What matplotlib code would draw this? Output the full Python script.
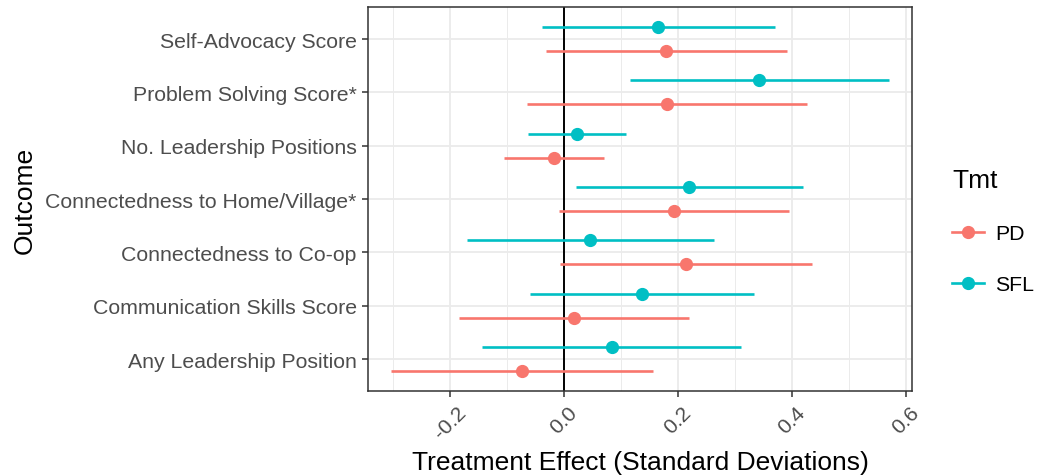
import numpy as np
import matplotlib
matplotlib.use("Agg")
import matplotlib.pyplot as plt
from matplotlib.lines import Line2D

plt.rcParams['font.family'] = ['Liberation Sans', 'DejaVu Sans']

# outcomes, bottom to top
outcomes = ["Any Leadership Position", "Communication Skills Score",
            "Connectedness to Co-op", "Connectedness to Home/Village*",
            "No. Leadership Positions", "Problem Solving Score*",
            "Self-Advocacy Score"]

pd_est = [-0.073, 0.018, 0.214, 0.194, -0.017, 0.181, 0.180]
pd_low = [-0.303, -0.184, -0.007, -0.008, -0.104, -0.065, -0.031]
pd_high = [0.157, 0.219, 0.435, 0.396, 0.070, 0.426, 0.391]

sfl_est = [0.084, 0.138, 0.046, 0.220, 0.023, 0.343, 0.166]
sfl_low = [-0.144, -0.059, -0.169, 0.022, -0.062, 0.116, -0.038]
sfl_high = [0.311, 0.333, 0.263, 0.419, 0.109, 0.571, 0.371]

groups = ["PD", "SFL"]
colors = ["#F8766D", "#00BFC4"]

fig = plt.figure(figsize=(10.45, 4.77), dpi=100)
ax = fig.add_axes([0.352, 0.178, 0.521, 0.805])

ypos = np.arange(1, len(outcomes) + 1)
series = [(pd_est, pd_low, pd_high, -0.225), (sfl_est, sfl_low, sfl_high, 0.225)]
for (est, lo, hi, off), col in zip(series, colors):
    y = ypos + off
    ax.hlines(y, lo, hi, color=col, lw=1.9, zorder=3)
    ax.plot(est, y, 'o', color=col, ms=8.5, zorder=4)

ax.axvline(0, color="black", lw=1.4, zorder=2)

ax.set_xlim(-0.3435, 0.6115)
ax.set_ylim(0.4, len(outcomes) + 0.6)
ax.set_xticks([-0.2, 0.0, 0.2, 0.4, 0.6])
ax.set_xticks([-0.3, -0.1, 0.1, 0.3, 0.5], minor=True)
ax.set_xticklabels(["-0.2", "0.0", "0.2", "0.4", "0.6"], rotation=45)
ax.set_yticks(ypos)
ax.set_yticklabels(outcomes)

ax.grid(True, which='major', color="#EBEBEB", lw=1.3, zorder=0)
ax.grid(True, which='minor', axis='x', color="#EBEBEB", lw=0.7, zorder=0)
ax.set_axisbelow(True)
for s in ax.spines.values():
    s.set_color("#333333")
    s.set_linewidth(1.1)
ax.tick_params(which='major', length=4.5, width=1.1, color="#333333",
               labelsize=15.3, labelcolor="#4D4D4D")
ax.tick_params(which='minor', length=0)

ax.set_xlabel("Treatment Effect (Standard Deviations)", fontsize=19, labelpad=6)
ax.set_ylabel("Outcome", fontsize=19, labelpad=6)

handles = [Line2D([0], [0], color=c, lw=1.9, marker='o', ms=8.5) for c in colors]
leg = fig.legend(handles, groups, title="Tmt", loc="center left",
                 bbox_to_anchor=(0.893, 0.513), frameon=False, fontsize=15.3,
                 title_fontsize=19, handlelength=1.5, labelspacing=1.5,
                 handletextpad=0.5)
leg._legend_box.align = "left"

fig.savefig("out.png", dpi=100)
